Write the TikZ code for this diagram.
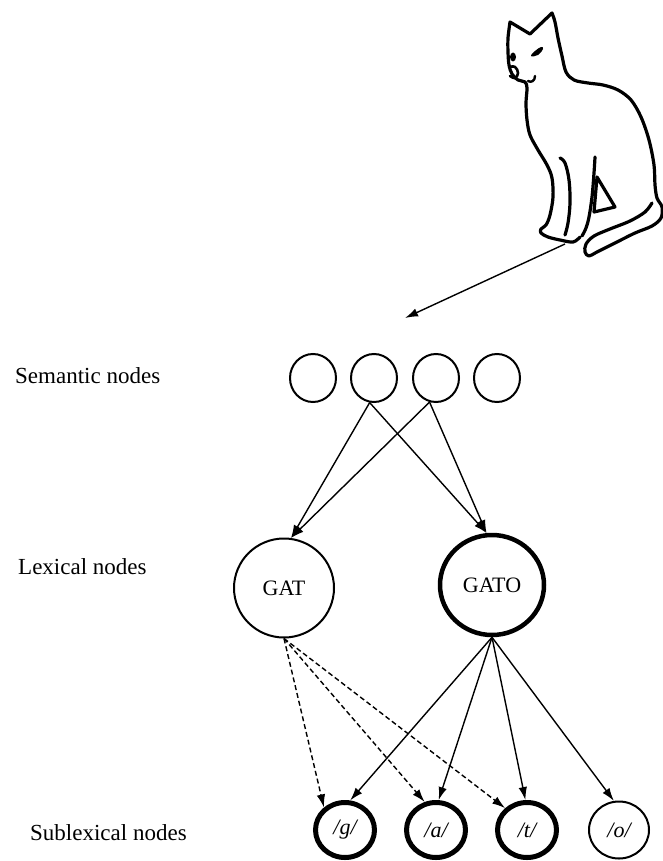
\documentclass[tikz,border=0pt]{standalone}
\usepackage{fontspec}
\setmainfont{Liberation Serif}
\usetikzlibrary{shapes.geometric,arrows.meta}

\tikzset{
  lbl/.style={anchor=base west, inner sep=0pt, font=\fontsize{23}{27}\selectfont},
  sem/.style={ellipse, draw, line width=2pt, minimum width=46pt, minimum height=48pt, inner sep=0pt},
  lex/.style={ellipse, draw, line width=2pt, minimum width=100pt, minimum height=99pt, inner sep=0pt,
              font=\fontsize{22}{24}\selectfont},
  lexstrong/.style={lex, line width=4.5pt, minimum width=104pt, minimum height=100pt},
  sub/.style={ellipse, draw, line width=2pt, minimum width=60pt, minimum height=57pt, inner sep=0pt,
              font=\itshape\fontsize{22}{24}\selectfont},
  substrong/.style={sub, line width=5pt, minimum width=59pt, minimum height=55pt},
  link/.style={line width=1.4pt, -{Latex[length=13pt,width=8.5pt]}},
  weak/.style={link, dash pattern=on 5pt off 3pt},
  catline/.style={line width=3.2pt, line cap=round, line join=round}
}

\begin{document}
\begin{tikzpicture}[x=1pt,y=-1pt]
\useasboundingbox (0,0) rectangle (663,861);

% ---- the cat ----
\draw[catline]
  plot[smooth, tension=0.55] coordinates {
    (580,237) (573,242) (560,240) (548,237) (541,233) (541,229) (546,225)
    (550,215) (553,197) (552,178) (547,165) (538,150) (530,135) (527,120)
    (526,103) (527,88) (525,82) (518,80) (512,74) (509,65) (508,52)
    (508,38) (510,22)}
  -- (530,34) --
  plot[smooth, tension=0.55] coordinates {
    (552,13) (555,22) (558,38) (562,56) (566,72) (574,80) (588,83)
    (603,85) (618,90) (631,100) (641,117) (649,140) (654,165) (655,185)
    (657,198) (662,207) (661,218) (652,226) (635,233) (615,243) (597,252)
    (589,256) (585,252) (586,244) (594,236) (610,229) (630,221) (645,212)
    (652,203)};
% nose and mouth
\draw[catline, line width=2.6pt] plot[smooth, tension=0.7] coordinates {(509,67) (515,67) (518,73) (515,78) (510,76)};
\draw[catline, line width=2.4pt] (528,81) .. controls (531,83) and (535,81) .. (535,76);
% eyes
\fill plot[smooth cycle, tension=0.7] coordinates {(531,56) (535,51) (541,47) (543,49) (538,55)};
\fill (513,57) ellipse [x radius=3pt, y radius=4.5pt];
% back edge of the front leg
\draw[catline] plot[smooth, tension=0.6] coordinates {(560,158) (565,163) (569,180) (570,203) (568,223) (565,235)};
% hind leg
\draw[catline] plot[smooth, tension=0.6] coordinates {(595,157) (594,173) (592,197) (589,217) (586,228) (582,236)};
\draw[catline] (597,177) -- (615,207) -- (594,212) -- cycle;

% ---- arrow from the picture to the semantic layer ----
\coordinate (paw) at (565,244);
\coordinate (aim) at (405,318);
\draw[link] (paw) -- (aim);

% ---- layer labels ----
\node[lbl] (semlbl) at (15,383) {Semantic nodes};
\node[lbl] (lexlbl) at (18,574) {Lexical nodes};
\node[lbl] (sublbl) at (30,840) {Sublexical nodes};

% ---- semantic nodes ----
\node[sem] (s1) at (313,378) {};
\node[sem] (s2) at (374,378) {};
\node[sem] (s3) at (436,378) {};
\node[sem] (s4) at (497,378) {};

% ---- lexical nodes ----
\node[lex] (gat) at (284,588) {GAT};
\node[lexstrong] (gato) at (492,585) {GATO};

% ---- sublexical nodes ----
\node[substrong] (g) at (345,830) {/g/};
\node[substrong] (a) at (436,830) {/a/};
\node[substrong] (t) at (527,830) {/t/};
\node[sub] (o) at (619,830) {/o/};

% ---- semantic -> lexical ----
\draw[link] (s2.-100) -- (gat.82);
\draw[link] (s3.-105) -- (gat.82);
\draw[link] (s2.-100) -- (gato.96);
\draw[link] (s3.-105) -- (gato.96);

% ---- lexical -> sublexical ----
\draw[weak] (gat.south) -- (g.133);
\draw[weak] (gat.south) -- (a.112);
\draw[weak] (gat.south) -- (t.135);
\draw[link] (gato.south) -- (g.80);
\draw[link] (gato.south) -- (a.85);
\draw[link] (gato.south) -- (t.93);
\draw[link] (gato.south) -- (o.100);
\end{tikzpicture}
\end{document}
